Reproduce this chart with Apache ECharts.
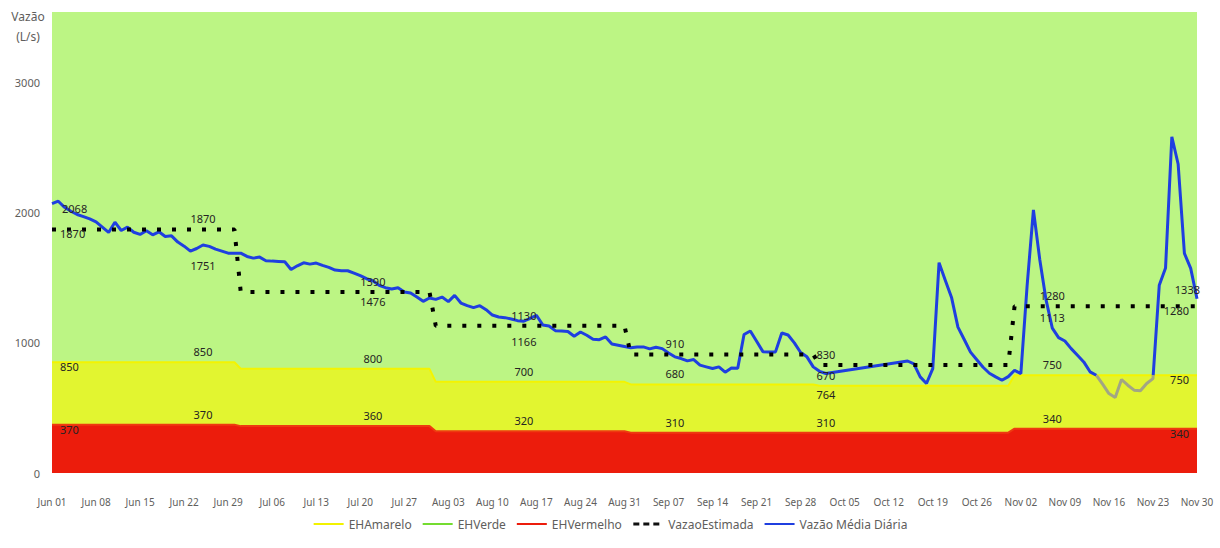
<!DOCTYPE html>
<html>
<head>
    <meta charset="utf-8">
    <title>Vazão Média Diária</title>
    <script src="https://cdn.jsdelivr.net/npm/echarts@6/dist/echarts.min.js"></script>
    <style>
        html, body { margin: 0; padding: 0; background: #fff; }
        #grafico { width: 1220px; height: 548px; }
    </style>
</head>
<body>
<div id="grafico"></div>
<script type="text/javascript">
    // rótulos do eixo x (uma marca por semana)
    var rotulosX = ['Jun 01', 'Jun 08', 'Jun 15', 'Jun 22', 'Jun 29', 'Jul 06', 'Jul 13', 'Jul 20', 'Jul 27',
        'Aug 03', 'Aug 10', 'Aug 17', 'Aug 24', 'Aug 31', 'Sep 07', 'Sep 14', 'Sep 21', 'Sep 28',
        'Oct 05', 'Oct 12', 'Oct 19', 'Oct 26', 'Nov 02', 'Nov 09', 'Nov 16', 'Nov 23', 'Nov 30'];

    // dias de cada mês (Jun..Nov)
    var diasMes = [30, 31, 31, 30, 31, 30];

    // faixas mensais (L/s)
    var ehVermelho = [370, 360, 320, 310, 310, 340];
    var ehAmarelo = [850, 800, 700, 680, 670, 750];
    var ehVerde = [3540, 3540, 3540, 3540, 3540, 3540];
    var vazaoEstimada = [1870, 1390, 1130, 910, 830, 1280];

    // vazão média diária, 01/jun a 30/nov (null = dia sem medição)
    var vazaoMedia = [
        2068, 2087, 2040, 2010, 1985, 1969, 1951, 1929, 1888, 1847,
        1926, 1862, 1888, 1849, 1832, 1860, 1829, 1852, 1816, 1821,
        1773, 1742, 1704, 1724, 1751, 1740, 1719, 1704, 1688, 1688,
        1688, 1663, 1650, 1658, 1630, 1627, 1625, 1622, 1563, 1591,
        1614, 1604, 1612, 1594, 1579, 1558, 1553, 1553, 1535, 1515,
        1492, 1476, 1441, 1423, 1413, 1423, 1390, 1382, 1351, 1318,
        1344, 1333, 1351, 1316, 1364, 1305, 1285, 1270, 1285, 1254,
        1213, 1198, 1193, 1183, 1170, 1166, 1188, 1211, 1137, 1129,
        1093, 1091, 1086, 1050, 1083, 1058, 1027, 1024, 1045, 991,
        981, 971, 961, 968, 968, 953, 966, 955, 922, 892,
        879, 861, 871, 828, 815, 802, 815, 774, 807, 805,
        1063, 1091, 1012, 932, 930, 930, 1075, 1060, 999, 925,
        892, 815, 781, 764, null, null, null, null, null, null,
        null, null, null, null, null, null, 860, 838, 738, 687,
        802, 1615, 1479, 1345, 1120, 1025, 928, 870, 812, 766,
        738, 712, 740, 789, 762, 1440, 2020, 1642, 1331, 1113,
        1040, 1014, 955, 904, 853, 777, 751, 682, 610, 580,
        718, 674, 636, 631, 687, 725, 1441, 1575, 2582, 2373,
        1686, 1571, 1338
    ];

    // dias que recebem rótulo de dados
    var diasRotulo = [0, 24, 51, 75, 99, 123, 159, 182];
    var diasRotuloVazao = [0, 24, 51, 75, 123, 159, 182];

    var ultimoDia = vazaoMedia.length - 1;

    function porDia(mensal) {
        var out = [];
        for (var m = 0; m < mensal.length; m++) {
            for (var k = 0; k < diasMes[m]; k++) out.push(mensal[m]);
        }
        return out;
    }

    var vermelhoDia = porDia(ehVermelho);
    var amareloDia = porDia(ehAmarelo);
    var verdeDia = porDia(ehVerde);
    var estimadaDia = porDia(vazaoEstimada);

    // posição dos rótulos das faixas / linha estimada
    function lugarFaixa(d) {
        if (d === 0) return {position: 'bottom', distance: -1, align: 'left', offset: [8, 0]};
        if (d === ultimoDia) return {position: 'bottom', distance: -1, align: 'right', offset: [-8, 0]};
        return {position: 'top', distance: 5};
    }
    function lugarVazao(d) {
        if (d === 0) return {position: 'bottom', distance: -1, align: 'left', offset: [10, 0]};
        if (d === ultimoDia) return {position: 'top', distance: 4, align: 'right', offset: [3, 0]};
        if (d === 159) return {position: 'top', distance: 5};
        return {position: 'bottom', distance: 15};
    }

    function comRotulos(pontos, dias, lugar) {
        return pontos.map(function (p) {
            if (dias.indexOf(p[0]) >= 0 && p[1] != null && p[1] !== '-') {
                return {value: p, label: Object.assign({show: true}, lugar(p[0]))};
            }
            return p;
        });
    }

    function pares(arr) {
        return arr.map(function (v, i) { return [i, v]; });
    }

    // separa a vazão medida: acima da faixa amarela (azul) e dentro dela (cinza)
    var medidos = pares(vazaoMedia).filter(function (p) { return p[1] != null; });
    var acima = [], abaixo = [];
    for (var k = 0; k < medidos.length; k++) {
        var p = medidos[k];
        var dp = p[1] - amareloDia[p[0]];
        if (k > 0) {
            var q = medidos[k - 1];
            var dq = q[1] - amareloDia[q[0]];
            if ((dq < 0) !== (dp < 0)) {
                var t = dq / (dq - dp);
                var c = [q[0] + t * (p[0] - q[0]), q[1] + t * (p[1] - q[1])];
                acima.push(c);
                abaixo.push(c);
                if (dp < 0) acima.push([c[0], '-']);
                else abaixo.push([c[0], '-']);
            }
        }
        if (dp < 0) abaixo.push(p); else acima.push(p);
    }

    var corTexto = '#605e5c';
    var fonte = "'Segoe UI', 'Noto Sans', sans-serif";
    var rotuloDados = {show: false, fontSize: 11, color: '#252423', fontFamily: fonte,
        formatter: function (pr) { return pr.value[1]; }};
    var semSimbolo = {opacity: 0};

    // linha com símbolos invisíveis (precisam existir para os rótulos de dados)
    function linha(extra) {
        return Object.assign({
            type: 'line',
            symbol: 'circle',
            symbolSize: 0,
            showSymbol: true,
            showAllSymbol: true,
            label: rotuloDados,
            emphasis: {disabled: true}
        }, extra);
    }

    var myChart = echarts.init(document.getElementById('grafico'), null, {renderer: 'svg'});

    var option = {
        animation: false,
        backgroundColor: '#ffffff',
        textStyle: {fontFamily: fonte},
        grid: {left: 52, right: 23, top: 12, bottom: 75},
        graphic: [{
            type: 'text',
            x: 28,
            y: 6,
            style: {
                text: 'Vazão\n(L/s)',
                fill: corTexto,
                font: "12px 'Segoe UI', 'Noto Sans', sans-serif",
                textAlign: 'center',
                lineHeight: 20
            }
        }],
        legend: {
            top: 513,
            left: 'center',
            itemWidth: 30,
            itemHeight: 12,
            itemGap: 10,
            textStyle: {fontSize: 12, color: corTexto},
            data: [
                {name: 'EHAmarelo', itemStyle: semSimbolo, lineStyle: {color: '#f2f200', width: 2}},
                {name: 'EHVerde', itemStyle: semSimbolo, lineStyle: {color: '#74dc30', width: 2}},
                {name: 'EHVermelho', itemStyle: semSimbolo, lineStyle: {color: '#ec1c0c', width: 2}},
                {name: 'VazaoEstimada', itemStyle: semSimbolo, lineStyle: {color: '#111111', width: 3, type: [6, 4]}},
                {name: 'Vazão Média Diária', itemStyle: semSimbolo, lineStyle: {color: '#1f3fe0', width: 2}}
            ]
        },
        xAxis: {
            type: 'value',
            min: 0,
            max: ultimoDia,
            interval: 7,
            axisLine: {show: false},
            axisTick: {show: false},
            splitLine: {show: false},
            axisLabel: {
                margin: 24,
                fontSize: 10,
                color: corTexto,
                formatter: function (v) { return rotulosX[Math.round(v / 7)] || ''; }
            }
        },
        yAxis: {
            type: 'value',
            min: 0,
            max: 3540,
            interval: 1000,
            axisLine: {show: false},
            axisTick: {show: false},
            splitLine: {show: false},
            axisLabel: {
                margin: 12,
                fontSize: 11,
                color: corTexto,
                formatter: function (v) { return v % 1000 === 0 ? String(v) : ''; }
            }
        },
        series: [
            linha({
                name: 'EHVerde',
                symbol: 'none',
                data: pares(verdeDia),
                lineStyle: {width: 0, color: '#bcf584'},
                itemStyle: {color: '#74dc30'},
                areaStyle: {color: '#bcf584', opacity: 1}
            }),
            linha({
                name: 'EHAmarelo',
                data: comRotulos(pares(amareloDia), diasRotulo, lugarFaixa),
                lineStyle: {width: 2, color: '#f4f400'},
                itemStyle: {color: '#f2f200'},
                areaStyle: {color: '#e2f530', opacity: 1}
            }),
            linha({
                name: 'EHVermelho',
                data: comRotulos(pares(vermelhoDia), diasRotulo, lugarFaixa),
                lineStyle: {width: 2, color: '#ee3a10'},
                itemStyle: {color: '#ec1c0c'},
                areaStyle: {color: '#ec1c0c', opacity: 1}
            }),
            linha({
                name: 'Vazão Média Diária',
                data: comRotulos(acima, diasRotuloVazao, lugarVazao),
                lineStyle: {width: 3, color: '#1f3fe0'},
                itemStyle: {color: '#1f3fe0'}
            }),
            linha({
                name: 'Vazão (faixa amarela)',
                symbol: 'none',
                data: abaixo,
                lineStyle: {width: 3, color: '#a2a684'},
                itemStyle: {color: '#a2a684'}
            }),
            linha({
                name: 'VazaoEstimada',
                data: comRotulos(pares(estimadaDia), diasRotulo, lugarFaixa),
                lineStyle: {width: 4, color: '#000000', type: [4, 11], cap: 'butt'},
                itemStyle: {color: '#000000'}
            })
        ]
    };

    myChart.setOption(option);
</script>
</body>
</html>
